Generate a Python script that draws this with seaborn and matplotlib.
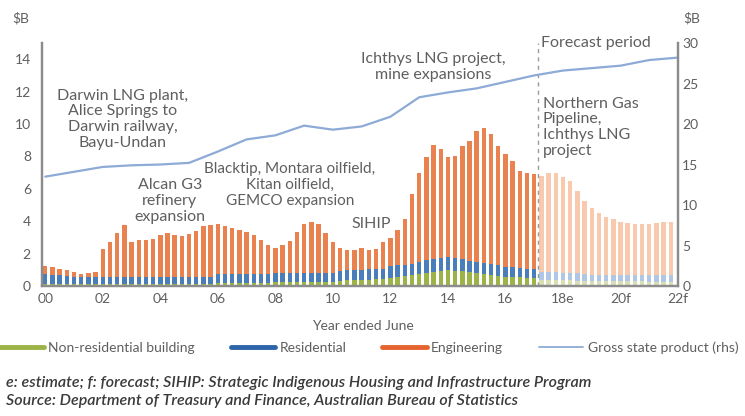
import numpy as np
import pandas as pd
import seaborn as sns
import matplotlib.pyplot as plt
from matplotlib.lines import Line2D

# quarterly bars, 2000 to 2022 (year ended June), values in $B
quarters = list(range(88))
total_work = [1.24, 1.18, 1.07, 0.99, 0.87, 0.76, 0.83, 0.89,
              2.31, 2.69, 3.27, 3.76, 2.69, 2.84, 2.84, 2.90,
              3.16, 3.29, 3.16, 3.10, 3.20, 3.37, 3.68, 3.78,
              3.80, 3.68, 3.56, 3.47, 3.35, 3.16, 2.85, 2.54,
              2.35, 2.54, 2.79, 3.35, 3.80, 3.97, 3.82, 3.27,
              2.69, 2.35, 2.23, 2.23, 2.33, 2.25, 2.28, 2.69,
              2.94, 3.47, 4.11, 5.66, 6.98, 7.95, 8.72, 8.43,
              7.95, 8.02, 8.63, 8.98, 9.56, 9.77, 9.36, 8.63,
              8.16, 7.70, 7.12, 6.98, 6.94, 6.81, 6.96, 6.96,
              6.75, 6.50, 5.89, 5.27, 4.79, 4.48, 4.28, 4.13,
              3.98, 3.86, 3.82, 3.82, 3.82, 3.88, 3.95, 3.98]
non_residential = [0.12, 0.12, 0.12, 0.12, 0.12, 0.12, 0.12, 0.12,
                   0.13, 0.13, 0.13, 0.13, 0.13, 0.13, 0.13, 0.13,
                   0.13, 0.13, 0.13, 0.13, 0.13, 0.13, 0.13, 0.13,
                   0.18, 0.18, 0.18, 0.18, 0.18, 0.18, 0.18, 0.18,
                   0.25, 0.25, 0.25, 0.25, 0.25, 0.25, 0.25, 0.25,
                   0.25, 0.32, 0.34, 0.36, 0.38, 0.40, 0.42, 0.45,
                   0.50, 0.55, 0.60, 0.65, 0.72, 0.80, 0.85, 0.92,
                   0.97, 0.95, 0.90, 0.85, 0.78, 0.72, 0.66, 0.62,
                   0.58, 0.55, 0.53, 0.52, 0.50, 0.38, 0.37, 0.36,
                   0.35, 0.34, 0.33, 0.32, 0.31, 0.30, 0.30, 0.29,
                   0.29, 0.28, 0.28, 0.28, 0.27, 0.27, 0.27, 0.27]
residential = [0.62, 0.58, 0.55, 0.52, 0.44, 0.42, 0.42, 0.42,
               0.42, 0.42, 0.43, 0.43, 0.43, 0.43, 0.43, 0.44,
               0.44, 0.44, 0.44, 0.45, 0.45, 0.45, 0.45, 0.45,
               0.55, 0.55, 0.55, 0.55, 0.55, 0.55, 0.55, 0.55,
               0.57, 0.57, 0.57, 0.57, 0.57, 0.57, 0.57, 0.57,
               0.57, 0.62, 0.62, 0.62, 0.62, 0.62, 0.62, 0.62,
               0.72, 0.72, 0.72, 0.72, 0.75, 0.78, 0.80, 0.82,
               0.80, 0.78, 0.75, 0.70, 0.70, 0.70, 0.70, 0.70,
               0.60, 0.60, 0.58, 0.55, 0.53, 0.50, 0.50, 0.48,
               0.48, 0.46, 0.45, 0.44, 0.38, 0.38, 0.38, 0.38,
               0.38, 0.38, 0.38, 0.38, 0.38, 0.38, 0.38, 0.38]
forecast_start = 69

# gross state product, annual points (rhs, $B)
gsp_pos = list(range(0, 89, 4))
gsp = [13.5, 14.1, 14.7, 14.9, 15.0, 15.2, 16.6, 18.1, 18.6, 19.8, 19.3, 19.7,
       20.9, 23.3, 23.9, 24.4, 25.2, 26.0, 26.6, 26.9, 27.2, 27.9, 28.2]

tick_pos = list(range(0, 89, 8))
tick_labels = ['00', '02', '04', '06', '08', '10', '12', '14', '16', '18e', '20f', '22f']

df = pd.DataFrame({'q': quarters, 'total': total_work,
                   'nonres': non_residential, 'res': residential})
df['phase'] = np.where(df['q'] >= forecast_start, 'forecast', 'actual')
df['res_top'] = df['nonres'] + df['res']

sns.set_theme(style='white')
plt.rcParams['font.family'] = ['Lato', 'DejaVu Sans']

grey = '#5f5f5f'
spine_col = '#8c8c8c'

fig = plt.figure(figsize=(7.45, 4.16), dpi=100)
ax = fig.add_axes([0.0564, 0.3125, 0.8537, 0.5841])

# stacked bars drawn as overlays: total (engineering), then residential, then non-res
layers = [('total', '#E9824F', '#F9C9AE'),
          ('res_top', '#4A7EBB', '#AFC6E6'),
          ('nonres', '#9BB347', '#D8E0B3')]
for col, dark, light in layers:
    sns.barplot(data=df, x='q', y=col, hue='phase',
                palette={'actual': dark, 'forecast': light},
                native_scale=True, dodge=False, width=0.62, saturation=1,
                linewidth=0, errorbar=None, legend=False, ax=ax)

ax.set_xlim(-0.45, 88)
ax.set_ylim(0, 15)
ax.set_yticks(range(0, 15, 2))
ax.set_xticks(tick_pos)
ax.set_xticklabels(tick_labels)
ax.set_xlabel('')
ax.set_ylabel('')
ax.tick_params(axis='both', length=0, labelsize=10, colors=grey)
ax.tick_params(axis='y', pad=8)
ax.tick_params(axis='x', pad=5)

ax.axvline(68.5, color='#9a9a9a', linestyle=(0, (3, 3)), linewidth=1)

ax2 = ax.twinx()
sns.lineplot(x=gsp_pos, y=gsp, ax=ax2, color='#8EAAD6', linewidth=1.6)
ax2.set_ylim(0, 30)
ax2.set_yticks(range(0, 31, 5))
ax2.tick_params(axis='y', length=0, labelsize=10, colors=grey, pad=3)
ax2.set_ylabel('')

for a in (ax, ax2):
    a.spines['top'].set_visible(False)
    for s in ('left', 'right', 'bottom'):
        a.spines[s].set_color(spine_col)
        a.spines[s].set_linewidth(1.6)

# annotations
ann = dict(color=grey, fontsize=11.5, linespacing=1.15)
ax.text(10.8, 10.3, 'Darwin LNG plant,\nAlice Springs to\nDarwin railway,\nBayu-Undan',
        ha='center', va='center', **ann)
ax.text(17.3, 5.25, 'Alcan G3\nrefinery\nexpansion', ha='center', va='center', **ann)
ax.text(34.0, 6.25, 'Blacktip, Montara oilfield,\nKitan oilfield,\nGEMCO expansion',
        ha='center', va='center', fontsize=11, color=grey, linespacing=1.2)
ax.text(45.4, 3.85, 'SIHIP', ha='center', va='center', **ann)
ax.text(53.9, 13.5, 'Ichthys LNG project,\nmine expansions', ha='center', va='center', **ann)
ax.text(69.0, 15.0, 'Forecast period', ha='left', va='center', **ann)
ax.text(69.2, 9.8, 'Northern Gas\nPipeline,\nIchthys LNG\nproject', ha='left', va='center', **ann)

fig.text(12 / 745, 1 - 18 / 416, '$B', color=grey, fontsize=10, va='center')
fig.text(683 / 745, 1 - 18 / 416, '$B', color=grey, fontsize=10, va='center')
fig.text(0.487, 1 - 326 / 416, 'Year ended June', color=grey, fontsize=10,
         ha='center', va='center')

handles = [Line2D([], [], color='#9BB347', lw=3.5),
           Line2D([], [], color='#2E64A8', lw=3.5),
           Line2D([], [], color='#E5632E', lw=3.5),
           Line2D([], [], color='#8EAAD6', lw=1.3)]
labels = ['Non-residential building', 'Residential', 'Engineering', 'Gross state product (rhs)']
leg = fig.legend(handles, labels, loc='center', bbox_to_anchor=(0.495, 1 - 348 / 416),
                 ncol=4, frameon=False, fontsize=10, handlelength=3.2,
                 handletextpad=0.3, columnspacing=2.6)
for t in leg.get_texts():
    t.set_color(grey)

foot = dict(color='#3a3a3a', fontsize=11.5, style='italic', weight='semibold', va='center')
fig.text(0.008, 1 - 383 / 416,
         'e: estimate; f: forecast; SIHIP: Strategic Indigenous Housing and Infrastructure Program',
         **foot)
fig.text(0.008, 1 - 401 / 416,
         'Source: Department of Treasury and Finance, Australian Bureau of Statistics', **foot)

fig.savefig('out.png', dpi=100)
